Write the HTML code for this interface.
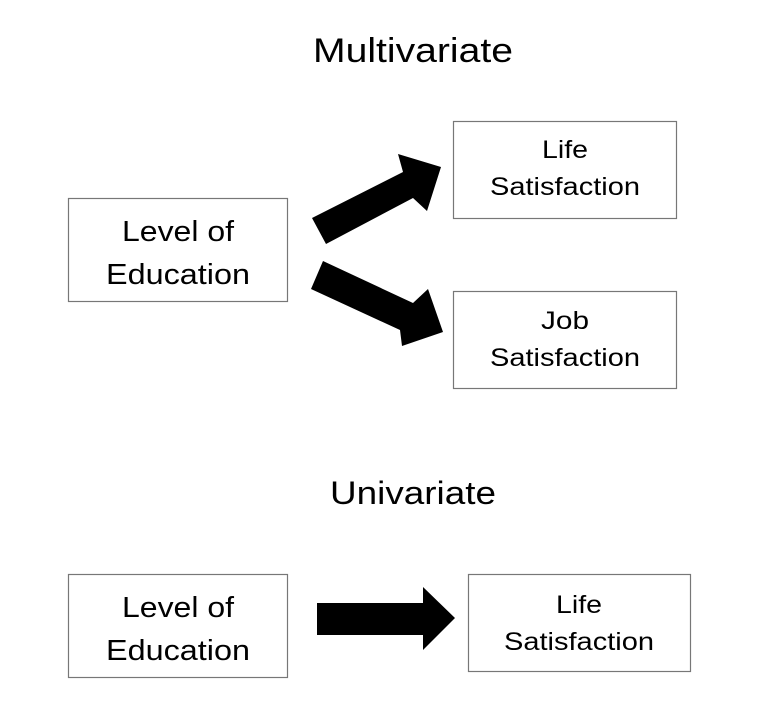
<!DOCTYPE html>
<html><head><style>html,body{margin:0;padding:0;background:#fff;width:768px;height:728px;overflow:hidden}</style></head>
<body>
<svg width="768" height="728" xmlns="http://www.w3.org/2000/svg" font-family="Liberation Sans, sans-serif">
<text x="413" y="62" font-size="34" text-anchor="middle" textLength="200" lengthAdjust="spacingAndGlyphs">Multivariate</text>
<text x="413" y="504" font-size="32" text-anchor="middle" textLength="166" lengthAdjust="spacingAndGlyphs">Univariate</text>
<g fill="#fff" stroke="#777" stroke-width="1.2">
<rect x="68.5" y="198.5" width="219" height="103"/>
<rect x="453.5" y="121.5" width="223" height="97"/>
<rect x="453.5" y="291.5" width="223" height="97"/>
<rect x="68.5" y="574.5" width="219" height="103"/>
<rect x="468.5" y="574.5" width="222" height="97"/>
</g>
<g font-size="29" text-anchor="middle">
<text x="178" y="241" textLength="112" lengthAdjust="spacingAndGlyphs">Level of</text>
<text x="178" y="284" textLength="144" lengthAdjust="spacingAndGlyphs">Education</text>
<text x="178" y="617" textLength="112" lengthAdjust="spacingAndGlyphs">Level of</text>
<text x="178" y="660" textLength="144" lengthAdjust="spacingAndGlyphs">Education</text>
</g>
<g font-size="25" text-anchor="middle">
<text x="565" y="158" textLength="46" lengthAdjust="spacingAndGlyphs">Life</text>
<text x="565" y="195" textLength="150" lengthAdjust="spacingAndGlyphs">Satisfaction</text>
<text x="565" y="329" textLength="48" lengthAdjust="spacingAndGlyphs">Job</text>
<text x="565" y="366" textLength="150" lengthAdjust="spacingAndGlyphs">Satisfaction</text>
<text x="579" y="613" textLength="46" lengthAdjust="spacingAndGlyphs">Life</text>
<text x="579" y="650" textLength="150" lengthAdjust="spacingAndGlyphs">Satisfaction</text>
</g>
<polygon points="312,218 326,244 413,198 427,211 441,167 398,154 403,172" fill="#000"/>
<polygon points="323,261 311,289 400,330 402,346 443,332 428,289 413,303" fill="#000"/>
<polygon points="317,603 423,603 423,587 455,618 423,650 423,635 317,635" fill="#000"/>
</svg>
</body></html>
